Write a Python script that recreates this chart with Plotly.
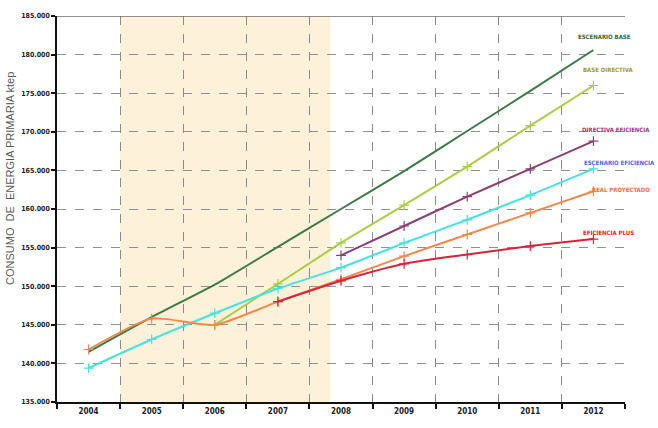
import plotly.graph_objects as go

# Primary energy consumption scenarios (ktep), 2004-2012
years = [2004, 2005, 2006, 2007, 2008, 2009, 2010, 2011, 2012]

escenario_base = [141500, 146000, 150200, 155100, 160000, 164900, 170100, 175300, 180600]
base_directiva = [None, None, 145000, 150300, 155600, 160500, 165500, 170800, 176000]
directiva_eficiencia = [None, None, None, None, 154000, 157800, 161600, 165200, 168800]
escenario_eficiencia = [139400, 143100, 146500, 149700, 152400, 155600, 158600, 161800, 165200]
real_proyectado = [141800, 145800, 145000, 148000, 150900, 153900, 156700, 159500, 162300]
eficiencia_plus = [None, None, None, 148000, 150700, 152900, 154100, 155200, 156100]

series_names = ["ESCENARIO BASE", "BASE DIRECTIVA", "DIRECTIVA EFICIENCIA",
                "ESCENARIO EFICIENCIA", "REAL PROYECTADO", "EFICIENCIA PLUS"]
series_values = [escenario_base, base_directiva, directiva_eficiencia,
                 escenario_eficiencia, real_proyectado, eficiencia_plus]
line_colors = ["#3d7a45", "#a9cd45", "#8a4075", "#45e3e0", "#f2874a", "#d8243a"]
label_colors = ["#2f6b35", "#a89a10", "#b03070", "#3a6ef0", "#f0703c", "#e02626"]
show_markers = [False, True, True, True, True, True]

x_range = [2003.5, 2012.5]
# label anchor positions (year, ktep) just right of the line ends
label_x = [2012.18, 2012.24, 2012.35, 2012.42, 2012.43, 2012.24]
label_y = [182300, 178100, 170300, 166000, 162550, 156900]

y_ticks = list(range(135000, 185001, 5000))
highlight_start, highlight_end = 2004.5, 2007.83

tick_font = "Liberation Sans Narrow, Arial Narrow, DejaVu Sans Condensed, sans-serif"

fig = go.Figure()

for name, vals, col, mk in zip(series_names, series_values, line_colors, show_markers):
    fig.add_trace(go.Scatter(
        x=years, y=vals, name=name,
        mode="lines+markers" if mk else "lines",
        line=dict(color=col, width=2, shape="spline", smoothing=0.6),
        marker=dict(symbol="cross-thin", size=7, line=dict(color=col, width=1.2)),
        connectgaps=False,
        showlegend=False,
    ))

# highlighted period
fig.add_shape(type="rect", xref="x", yref="paper",
              x0=highlight_start, x1=highlight_end, y0=0, y1=1,
              fillcolor="#fdf1da", line=dict(width=0), layer="below")

# top frame line
fig.add_shape(type="line", xref="paper", yref="y", x0=0, x1=1,
              y0=y_ticks[-1], y1=y_ticks[-1],
              line=dict(color="#6e6e6e", width=1.5))

span = x_range[1] - x_range[0]
for name, x, y, c in zip(series_names, label_x, label_y, label_colors):
    fig.add_annotation(x=(x - x_range[0]) / span, y=y, xref="paper", yref="y",
                       text="<b>%s</b>" % name,
                       showarrow=False, xanchor="center", yanchor="middle",
                       font=dict(family=tick_font, size=6, color=c))

fig.add_annotation(x=-0.083, y=0.58, xref="paper", yref="paper",
                   text="CONSUMO  DE  ENERGIA PRIMARIA ktep", textangle=-90,
                   showarrow=False, xanchor="center", yanchor="middle",
                   font=dict(family="Liberation Sans, Arial, sans-serif", size=11, color="#5a5a5a"))

fig.update_xaxes(
    range=x_range,
    tickmode="array", tickvals=years, ticktext=["<b>%d</b>" % y for y in years],
    ticks="", showgrid=False,
    showline=True, linecolor="#111111", linewidth=2,
    tickfont=dict(family=tick_font, size=8, color="#222222"),
    minor=dict(tickmode="array", tickvals=[y + 0.5 for y in [2003] + years],
               ticks="outside", ticklen=5, tickwidth=1.5, tickcolor="#111111",
               showgrid=True, gridcolor="#8a8a8a", griddash="dash", gridwidth=1),
    zeroline=False,
)
fig.update_yaxes(
    range=[y_ticks[0], y_ticks[-1]],
    tickmode="array", tickvals=y_ticks,
    ticktext=["<b>%s</b>" % format(v, ",").replace(",", ".") for v in y_ticks],
    ticks="outside", ticklen=4, tickwidth=1.5, tickcolor="#111111",
    showgrid=True, gridcolor="#909090", griddash="dash", gridwidth=1.3,
    showline=True, linecolor="#111111", linewidth=1.5,
    tickfont=dict(family=tick_font, size=7, color="#222222"),
    zeroline=False,
)

fig.update_layout(
    width=658, height=428,
    margin=dict(l=57, r=33, t=13, b=23),
    paper_bgcolor="white", plot_bgcolor="white",
    showlegend=False,
)

fig.write_html("out.html")
